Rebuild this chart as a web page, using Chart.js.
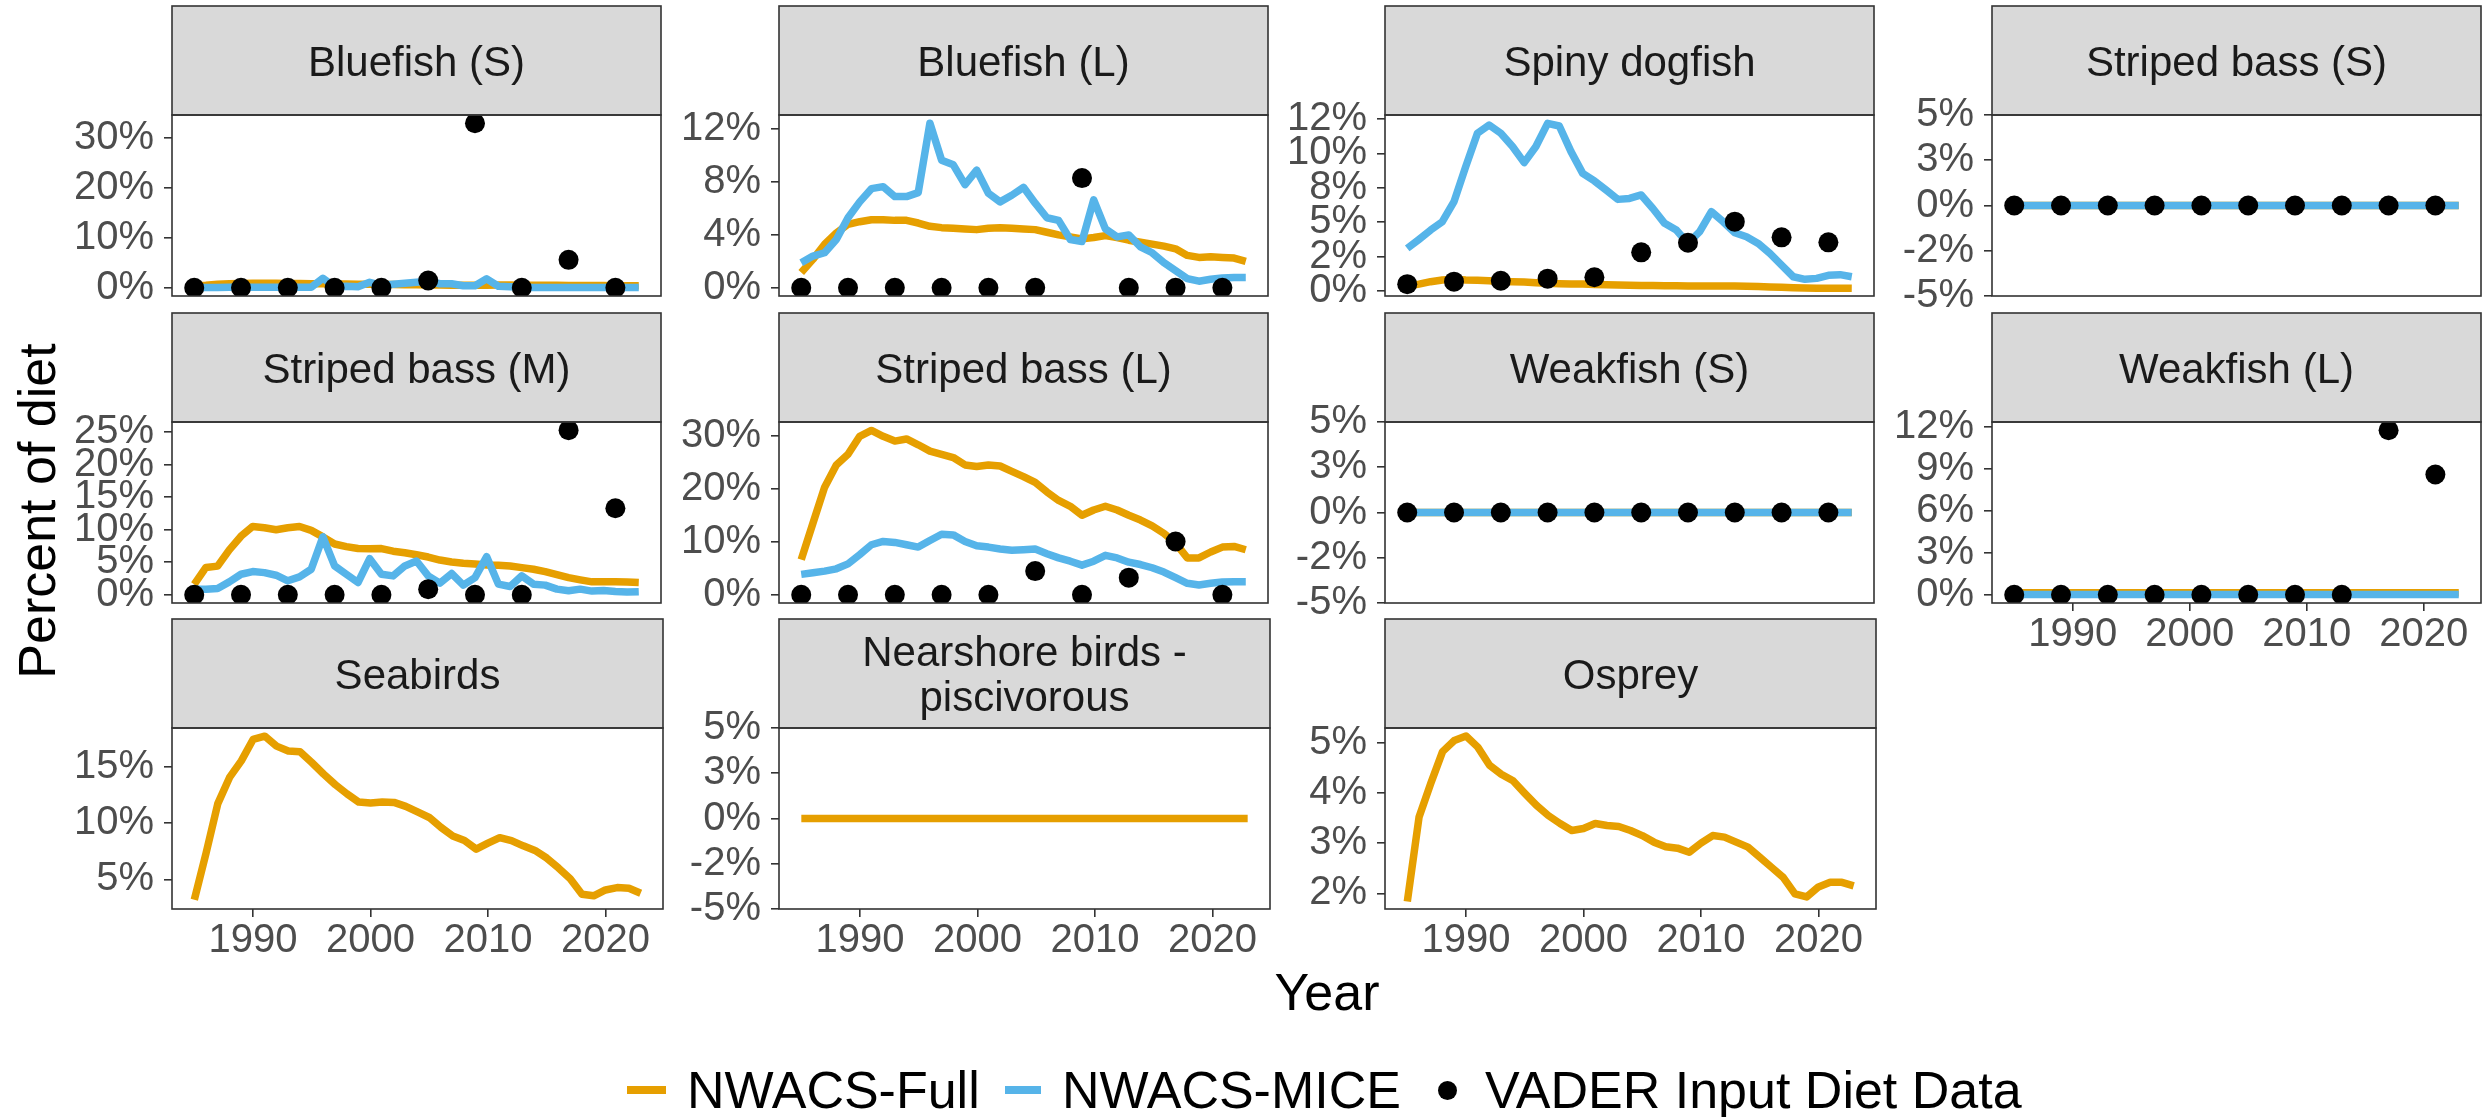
<!DOCTYPE html>
<html>
<head>
<meta charset="utf-8">
<script src="https://cdn.jsdelivr.net/npm/chart.js@4.4.0/dist/chart.umd.min.js"></script>
<style>
  body { margin: 0; background: #fff; width: 2491px; height: 1117px; overflow: hidden; position: relative;
         font-family: "Liberation Sans", Arial, sans-serif; }
  canvas.panel { position: absolute; }
  .lab { position: absolute; color: #000; font-size: 52px; line-height: 52px; white-space: nowrap; }
  .key { position: absolute; }
</style>
</head>
<body>
<div class="lab" style="left:-213px;top:485px;width:500px;text-align:center;transform:rotate(-90deg);">Percent of diet</div>
<div class="lab" style="left:1027px;top:966px;width:600px;text-align:center;">Year</div>
<div class="key" style="left:627px;top:1086px;width:39px;height:8px;background:#E69F00;"></div>
<div class="lab" style="left:687px;top:1064px;">NWACS-Full</div>
<div class="key" style="left:1005px;top:1086px;width:36px;height:8px;background:#56B4E9;"></div>
<div class="lab" style="left:1062px;top:1064px;">NWACS-MICE</div>
<div class="key" style="left:1438px;top:1081px;width:19px;height:19px;border-radius:50%;background:#000;"></div>
<div class="lab" style="left:1485px;top:1064px;">VADER Input Diet Data</div>

<script>
// years of the model runs and of the diet samples
var years = [1985,1986,1987,1988,1989,1990,1991,1992,1993,1994,
             1995,1996,1997,1998,1999,2000,2001,2002,2003,2004,
             2005,2006,2007,2008,2009,2010,2011,2012,2013,2014,
             2015,2016,2017,2018,2019,2020,2021,2022,2023];
var dietYears = [1985,1989,1993,1997,2001,2005,2009,2013,2017,2021];
var yearTicks = [1990,2000,2010,2020];

var flatZero = [0,0,0,0,0,0,0,0,0,0, 0,0,0,0,0,0,0,0,0,0, 0,0,0,0,0,0,0,0,0,0, 0,0,0,0,0,0,0,0,0];
var dietZero = [0,0,0,0,0,0,0,0,0,0];

// percent of diet
var bluefishS_full = [0.4,0.5,0.7,0.8,0.85,0.9,0.9,0.9,0.85,0.85, 0.8,0.8,0.75,0.75,0.7,0.7,0.65,0.65,0.6,0.6,
                      0.55,0.55,0.5,0.5,0.5,0.5,0.55,0.55,0.5,0.5, 0.5,0.5,0.45,0.45,0.45,0.45,0.4,0.4,0.4];
var bluefishS_mice = [0.05,0.05,0.05,0.1,0.1,0.1,0.1,0.1,0.1,0.1, 0.1,1.9,0.2,0.3,0.2,1.1,0.5,0.7,0.9,1.1,
                      1.3,0.8,0.8,0.4,0.4,1.8,0.3,0.2,0.1,0.05, 0.05,0.05,0.05,0.05,0.05,0.05,0.05,0.05,0.05];
var bluefishS_diet = [0,0,0,0,0,1.45,33.0,0,5.6,0];

var bluefishL_full = [1.15,2.15,3.3,4.15,4.8,5.0,5.15,5.15,5.1,5.1, 4.9,4.65,4.55,4.5,4.45,4.4,4.5,4.55,4.5,4.45,
                      4.4,4.2,4.0,3.85,3.7,3.8,3.95,3.8,3.6,3.45, 3.3,3.15,2.95,2.45,2.3,2.35,2.3,2.25,2.0];
var bluefishL_mice = [1.9,2.4,2.65,3.65,5.3,6.5,7.5,7.65,6.9,6.9, 7.2,12.45,9.65,9.3,7.8,8.9,7.15,6.5,7.0,7.6,
                      6.4,5.3,5.1,3.65,3.5,6.65,4.45,3.85,4.0,3.1, 2.65,1.9,1.3,0.7,0.5,0.65,0.75,0.78,0.78];
var bluefishL_diet = [0,0,0,0,0,0,8.3,0,0,0];

var dogfish_full = [0.36,0.5,0.68,0.8,0.85,0.8,0.78,0.75,0.7,0.68, 0.65,0.6,0.56,0.53,0.51,0.51,0.48,0.46,0.44,0.42,
                    0.41,0.4,0.39,0.38,0.37,0.37,0.37,0.37,0.36,0.35, 0.33,0.3,0.27,0.24,0.22,0.21,0.21,0.21,0.2];
var dogfish_mice = [3.1,3.75,4.43,5.04,6.5,9.04,11.46,12.06,11.46,10.5, 9.33,10.5,12.18,11.99,10.13,8.55,8.0,7.34,6.66,6.73,
                    6.98,6.0,4.92,4.43,3.46,4.31,5.77,5.04,4.24,3.95, 3.46,2.74,1.89,1.04,0.85,0.92,1.14,1.19,1.04];
var dogfish_diet = [0.5,0.68,0.75,0.9,1.0,2.81,3.51,5.04,3.9,3.54];

var stripedM_full = [1.6,4.2,4.4,6.9,9.0,10.5,10.3,10.0,10.3,10.5, 9.9,8.9,7.8,7.4,7.1,7.07,7.1,6.7,6.46,6.15,
                     5.8,5.34,5.04,4.83,4.73,4.58,4.53,4.43,4.17,3.92, 3.56,3.1,2.64,2.29,1.98,1.98,1.98,1.95,1.88];
var stripedM_mice = [0.86,0.86,0.97,1.98,3.15,3.56,3.4,3.0,2.14,2.75, 3.92,8.9,4.43,3.15,1.88,5.54,3.15,2.9,4.43,5.19,
                     2.9,1.78,3.26,1.48,2.64,5.85,1.63,1.27,2.9,1.63, 1.48,0.86,0.61,0.86,0.56,0.66,0.51,0.41,0.46];
var stripedM_diet = [0,0,0,0,0,0.86,0,0,25.3,13.3];

var stripedL_full = [6.65,13.5,20.3,24.5,26.5,29.9,31.0,29.9,29.0,29.4, 28.3,27.1,26.5,25.9,24.5,24.2,24.5,24.3,23.3,22.3,
                     21.2,19.4,17.8,16.7,15.0,16.0,16.7,16.0,15.0,14.1, 13.0,11.6,9.75,6.96,6.96,8.07,9.0,9.13,8.5];
var stripedL_mice = [3.85,4.16,4.47,4.9,5.84,7.58,9.44,10.06,9.88,9.44, 9.0,10.25,11.43,11.3,10.06,9.25,9.0,8.63,8.39,8.5,
                     8.63,7.76,6.96,6.34,5.59,6.34,7.45,6.96,6.15,5.71, 5.1,4.29,3.23,2.17,1.86,2.17,2.42,2.48,2.48];
var stripedL_diet = [0,0,0,0,0,4.47,0,3.23,10.06,0];

var weakfishL_full = [0.15,0.15,0.15,0.15,0.15,0.15,0.15,0.15,0.15,0.15, 0.15,0.15,0.15,0.15,0.15,0.15,0.15,0.15,0.15,0.15,
                      0.15,0.15,0.15,0.15,0.15,0.15,0.15,0.15,0.15,0.15, 0.15,0.15,0.15,0.15,0.15,0.15,0.15,0.15,0.15];
var weakfishL_mice = [0.02,0.02,0.02,0.02,0.02,0.02,0.02,0.02,0.02,0.02, 0.02,0.02,0.02,0.02,0.02,0.02,0.02,0.02,0.02,0.02,
                      0.02,0.02,0.02,0.02,0.02,0.02,0.02,0.02,0.02,0.02, 0.02,0.02,0.02,0.02,0.02,0.02,0.02,0.02,0.02];
var weakfishL_diet = [0,0,0,0,0,0,0,0,11.77,8.6];

var seabirds_full = [3.19,7.34,11.73,14.06,15.53,17.43,17.72,16.84,16.4,16.35, 15.38,14.36,13.42,12.6,11.87,11.78,11.87,11.84,11.49,10.99,
                     10.5,9.62,8.86,8.45,7.69,8.22,8.71,8.45,7.98,7.57, 6.9,6.02,5.06,3.68,3.54,4.06,4.27,4.21,3.77];
var osprey_full = [1.84,3.52,4.19,4.82,5.04,5.13,4.91,4.55,4.37,4.24, 3.99,3.75,3.55,3.39,3.25,3.29,3.39,3.35,3.33,3.25,
                   3.15,3.02,2.93,2.9,2.82,3.0,3.15,3.12,3.02,2.92, 2.72,2.52,2.32,1.99,1.93,2.13,2.22,2.22,2.15];

// y tick values and their labels
var pctTicks10 = [0,10,20,30],   pctLabels10 = ['0%','10%','20%','30%'];
var pctTicks4 = [0,4,8,12],      pctLabels4 = ['0%','4%','8%','12%'];
var pctTicksDog = [0,2.5,5,7.5,10,12.5], pctLabelsDog = ['0%','2%','5%','8%','10%','12%'];
var pctTicksFlat = [-5,-2.5,0,2.5,5],    pctLabelsFlat = ['-5%','-2%','0%','3%','5%'];
var pctTicks5 = [0,5,10,15,20,25], pctLabels5 = ['0%','5%','10%','15%','20%','25%'];
var pctTicks3 = [0,3,6,9,12],    pctLabels3 = ['0%','3%','6%','9%','12%'];
var pctTicksSea = [5,10,15],     pctLabelsSea = ['5%','10%','15%'];
var pctTicksOsp = [2,3,4,5],     pctLabelsOsp = ['2%','3%','4%','5%'];

var panels = [
  { title: ['Bluefish (S)'], col: 0, row: 0, full: bluefishS_full, mice: bluefishS_mice, diet: bluefishS_diet, ymin: -1.65, ymax: 34.65, ticks: pctTicks10, labels: pctLabels10 },
  { title: ['Bluefish (L)'], col: 1, row: 0, full: bluefishL_full, mice: bluefishL_mice, diet: bluefishL_diet, ymin: -0.62, ymax: 13.07, ticks: pctTicks4, labels: pctLabels4 },
  { title: ['Spiny dogfish'], col: 2, row: 0, full: dogfish_full, mice: dogfish_mice, diet: dogfish_diet, ymin: -0.36, ymax: 12.79, ticks: pctTicksDog, labels: pctLabelsDog },
  { title: ['Striped bass (S)'], col: 3, row: 0, full: flatZero, mice: flatZero, diet: dietZero, ymin: -5, ymax: 5, ticks: pctTicksFlat, labels: pctLabelsFlat },
  { title: ['Striped bass (M)'], col: 0, row: 1, full: stripedM_full, mice: stripedM_mice, diet: stripedM_diet, ymin: -1.27, ymax: 26.56, ticks: pctTicks5, labels: pctLabels5 },
  { title: ['Striped bass (L)'], col: 1, row: 1, full: stripedL_full, mice: stripedL_mice, diet: stripedL_diet, ymin: -1.55, ymax: 32.6, ticks: pctTicks10, labels: pctLabels10 },
  { title: ['Weakfish (S)'], col: 2, row: 1, full: flatZero, mice: flatZero, diet: dietZero, ymin: -5, ymax: 5, ticks: pctTicksFlat, labels: pctLabelsFlat },
  { title: ['Weakfish (L)'], col: 3, row: 1, full: weakfishL_full, mice: weakfishL_mice, diet: weakfishL_diet, ymin: -0.59, ymax: 12.36, ticks: pctTicks3, labels: pctLabels3, xaxis: true },
  { title: ['Seabirds'], col: 0, row: 2, full: seabirds_full, ymin: 2.37, ymax: 18.45, ticks: pctTicksSea, labels: pctLabelsSea, xaxis: true },
  { title: ['Nearshore birds -', 'piscivorous'], col: 1, row: 2, full: flatZero, ymin: -5, ymax: 5, ticks: pctTicksFlat, labels: pctLabelsFlat, xaxis: true },
  { title: ['Osprey'], col: 2, row: 2, full: osprey_full, ymin: 1.69, ymax: 5.29, ticks: pctTicksOsp, labels: pctLabelsOsp, xaxis: true }
];

var colLeft = [172, 779, 1385, 1992];
var rowTop = [6, 313, 619];
var plotW = 491, plotH = 181, stripH = 109, axisW = 130;
var FONT = '"Liberation Sans", Arial, sans-serif';

var stripPlugin = {
  id: 'strip',
  afterDraw: function(chart, args, opts) {
    var ctx = chart.ctx, a = chart.chartArea;
    var w = a.right - a.left;
    ctx.save();
    ctx.fillStyle = '#D9D9D9';
    ctx.fillRect(a.left, a.top - stripH, w, stripH);
    ctx.strokeStyle = '#333333';
    ctx.lineWidth = 1.6;
    ctx.strokeRect(a.left, a.top - stripH, w, stripH);
    ctx.strokeRect(a.left, a.top, w, a.bottom - a.top);
    ctx.fillStyle = '#1A1A1A';
    ctx.font = '42px ' + FONT;
    ctx.textAlign = 'center';
    ctx.textBaseline = 'alphabetic';
    var lines = opts.title || [];
    var cy = a.top - stripH / 2;
    lines.forEach(function(t, i) {
      ctx.fillText(t, (a.left + a.right) / 2, cy + 15 + (i - (lines.length - 1) / 2) * 45);
    });
    ctx.restore();
  }
};

function pts(xs, ys) {
  return ys.map(function(v, i) { return { x: xs[i], y: v }; });
}

panels.forEach(function(p) {
  var bottom = p.xaxis ? 62 : 35;
  var cw = axisW + plotW + 8;
  var ch = 4 + stripH + plotH + bottom;
  var cv = document.createElement('canvas');
  cv.className = 'panel';
  cv.width = cw; cv.height = ch;
  cv.style.left = (colLeft[p.col] - axisW) + 'px';
  cv.style.top = (rowTop[p.row] - 4) + 'px';
  cv.style.width = cw + 'px'; cv.style.height = ch + 'px';
  document.body.appendChild(cv);

  var datasets = [{
    label: 'NWACS-Full', data: pts(years, p.full), borderColor: '#E69F00', borderWidth: 7.5,
    pointRadius: 0, tension: 0, borderJoinStyle: 'round', order: 3
  }];
  if (p.mice) datasets.push({
    label: 'NWACS-MICE', data: pts(years, p.mice), borderColor: '#56B4E9', borderWidth: 7.5,
    pointRadius: 0, tension: 0, borderJoinStyle: 'round', order: 2
  });
  if (p.diet) datasets.push({
    label: 'VADER Input Diet Data', data: pts(dietYears, p.diet), showLine: false,
    pointRadius: 10, pointBackgroundColor: '#000', pointBorderWidth: 0, order: 1
  });

  var tickGrid = { drawOnChartArea: false, drawTicks: true, tickLength: 8, color: '#333333', lineWidth: 1.6 };

  var xScale = {
    type: 'linear', min: 1983.1, max: 2024.9, display: !!p.xaxis,
    afterBuildTicks: function(s) { s.ticks = yearTicks.map(function(v) { return { value: v }; }); },
    grid: tickGrid, border: { display: false },
    ticks: { color: '#4D4D4D', font: { size: 40, family: FONT }, padding: 0, maxRotation: 0, autoSkip: false,
             callback: function(v) { return String(v); } }
  };
  if (p.xaxis) xScale.afterFit = function(s) { s.height = bottom; };

  new Chart(cv, {
    type: 'line',
    data: { datasets: datasets },
    options: {
      responsive: false, animation: false, devicePixelRatio: 1,
      layout: { padding: { left: 0, top: 4 + stripH, right: 8, bottom: p.xaxis ? 0 : bottom } },
      plugins: { legend: { display: false }, tooltip: { enabled: false }, strip: { title: p.title } },
      scales: {
        x: xScale,
        y: {
          type: 'linear', min: p.ymin, max: p.ymax,
          afterBuildTicks: function(s) { s.ticks = p.ticks.map(function(v) { return { value: v }; }); },
          afterFit: function(s) { s.width = axisW; },
          grid: tickGrid, border: { display: false },
          ticks: { color: '#4D4D4D', font: { size: 40, family: FONT }, padding: 10, autoSkip: false,
                   callback: function(v, i) { return p.labels[i]; } }
        }
      }
    },
    plugins: [stripPlugin]
  });
});
</script>
</body>
</html>
